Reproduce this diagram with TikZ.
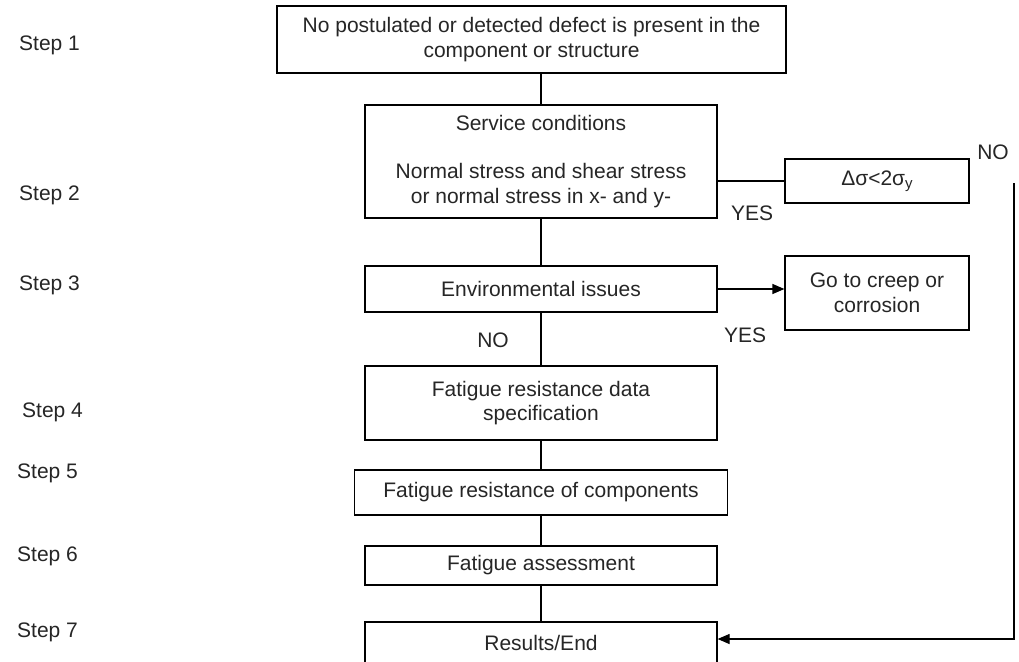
\documentclass[tikz,border=0pt]{standalone}
\usepackage{fontspec}
\setmainfont{Liberation Sans}
\usetikzlibrary{arrows.meta}
\begin{document}
\begin{tikzpicture}[x=1pt,y=-1pt,
  every node/.style={font=\fontsize{21}{24.5}\selectfont, text=black!85},
  box/.style={draw, line width=1.2pt, align=center, inner sep=0pt},
  lbl/.style={anchor=west, inner sep=0pt},
  link/.style={line width=1.2pt},
  arr/.style={line width=1.2pt, -{Triangle[length=12pt,width=10pt]}}]
\useasboundingbox (0,0) rectangle (1019,661);
\fill[white] (0,0) rectangle (1019,661);

% main column
\node[box, minimum width=509pt, minimum height=67pt] (s1) at (531.5,39.5)
  {No postulated or detected defect is present in the\\component or structure};
\node[box, minimum width=352pt, minimum height=113pt] (s2) at (541,161.5)
  {Service conditions\\[24pt]Normal stress and shear stress\\or normal stress in x- and y-};
\node[box, minimum width=352pt, minimum height=46pt] (s3) at (541,289) {Environmental issues};
\node[box, minimum width=352pt, minimum height=74pt] (s4) at (541,403)
  {Fatigue resistance data\\specification};
\node[box, minimum width=373pt, minimum height=45pt] (s5) at (541,492.5)
  {Fatigue resistance of components};
\node[box, minimum width=352pt, minimum height=39pt] (s6) at (541,565.5) {Fatigue assessment};
\node[box, minimum width=352pt, minimum height=42pt] (s7) at (541,643) {Results/End};

% side boxes
\node[box, minimum width=184pt, minimum height=44pt] (dsig) at (877,181)
  {Δσ<2σ\raisebox{-0.3ex}{\fontsize{15}{15}\selectfont y}};
\node[box, minimum width=184pt, minimum height=74pt] (creep) at (877,293)
  {Go to creep or\\corrosion};

% step labels
\node[lbl] (l1) at (19,45) {Step 1};
\node[lbl] (l2) at (19,195) {Step 2};
\node[lbl] (l3) at (19,285) {Step 3};
\node[lbl] (l4) at (22,412) {Step 4};
\node[lbl] (l5) at (17,473) {Step 5};
\node[lbl] (l6) at (17,556) {Step 6};
\node[lbl] (l7) at (17,632) {Step 7};

% branch labels
\node (no1) at (993,152) {NO};
\node (yes1) at (752,213) {YES};
\node (yes2) at (745,335) {YES};
\node (no2) at (493,340) {NO};

% connectors
\draw[link] (s2.north) -- (s2.north |- s1.south);
\draw[link] (s2.south) -- (s3.north);
\draw[link] (s3.south) -- (s4.north);
\draw[link] (s4.south) -- (s5.north);
\draw[link] (s5.south) -- (s6.north);
\draw[link] (s6.south) -- (s7.north);
\draw[link] (s2.east |- dsig.west) -- (dsig.west);
\draw[arr] (s3.east) -- (s3.east -| creep.west);
\coordinate (nostart) at (1014,183);
\coordinate (noturn) at (1014,639);
\draw[arr] (nostart) -- (noturn) -- (s7.east |- noturn);
\end{tikzpicture}
\end{document}
